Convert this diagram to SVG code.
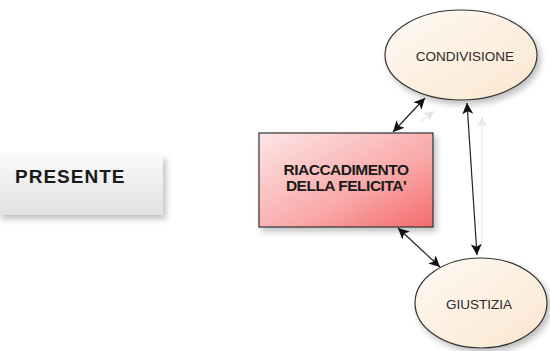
<svg xmlns="http://www.w3.org/2000/svg" width="550" height="351" viewBox="0 0 550 351">
  <defs>
    <linearGradient id="gGrey" x1="0" y1="0" x2="0" y2="1">
      <stop offset="0" stop-color="#f9f9f9"/>
      <stop offset="1" stop-color="#e2e2e2"/>
    </linearGradient>
    <linearGradient id="gRed" x1="0" y1="0" x2="1" y2="1">
      <stop offset="0" stop-color="#fde6e6"/>
      <stop offset="0.6" stop-color="#f9a8a8"/>
      <stop offset="1" stop-color="#f46a6a"/>
    </linearGradient>
    <linearGradient id="gPeach" x1="0" y1="0" x2="1" y2="1">
      <stop offset="0" stop-color="#fefaf3"/>
      <stop offset="1" stop-color="#fbe6d0"/>
    </linearGradient>
    <filter id="shadow" x="-10%" y="-10%" width="130%" height="140%">
      <feGaussianBlur in="SourceAlpha" stdDeviation="3"/>
      <feOffset dx="3" dy="4" result="b"/>
      <feComponentTransfer><feFuncA type="linear" slope="0.25"/></feComponentTransfer>
      <feMerge><feMergeNode/><feMergeNode in="SourceGraphic"/></feMerge>
    </filter>
    <marker id="ah" viewBox="0 0 10 10" refX="10" refY="5" markerWidth="11" markerHeight="11" orient="auto-start-reverse" markerUnits="userSpaceOnUse">
      <path d="M0,0 L10,5 L0,10 L2.5,5 z" fill="#111"/>
    </marker>
    <marker id="ahg" viewBox="0 0 10 10" refX="10" refY="5" markerWidth="10" markerHeight="10" orient="auto" markerUnits="userSpaceOnUse">
      <path d="M0,0 L10,5 L0,10 L2.5,5 z" fill="#e6e6e6"/>
    </marker>
    <style>
      .conn { stroke: #222; stroke-width: 1.2; fill: none; marker-start: url(#ah); marker-end: url(#ah); }
      .ghost { stroke: #ececec; stroke-width: 1.5; fill: none; marker-end: url(#ahg); }
      .bold { font-family: "Liberation Sans", Arial, sans-serif; font-weight: bold; fill: #1a1a1a; }
      .reg { font-family: "Liberation Sans", Arial, sans-serif; fill: #2a2a2a; }
    </style>
  </defs>

  <g id="presente">
    <rect x="-2" y="155" width="165" height="60" fill="url(#gGrey)" filter="url(#shadow)"/>
    <text class="bold" x="15" y="183" font-size="19" letter-spacing="1">PRESENTE</text>
  </g>

  <g id="riaccadimento">
    <rect x="259" y="133" width="174" height="94" fill="url(#gRed)" stroke="#333" stroke-width="1.2" filter="url(#shadow)"/>
    <text class="bold" x="346" y="175" font-size="15.5" letter-spacing="-0.5" text-anchor="middle">RIACCADIMENTO</text>
    <text class="bold" x="346" y="191" font-size="15.5" letter-spacing="-0.5" text-anchor="middle">DELLA FELICITA'</text>
  </g>

  <g id="condivisione">
    <ellipse cx="461" cy="55" rx="76" ry="45" fill="url(#gPeach)" stroke="#333" stroke-width="1.2" filter="url(#shadow)"/>
    <text class="reg" x="465" y="61" font-size="13.5" text-anchor="middle">CONDIVISIONE</text>
  </g>

  <g id="giustizia">
    <ellipse cx="481" cy="303" rx="66" ry="45" fill="url(#gPeach)" stroke="#333" stroke-width="1.2" filter="url(#shadow)"/>
    <text class="reg" x="479" y="309" font-size="13.5" text-anchor="middle">GIUSTIZIA</text>
  </g>

  <g id="connectors">
    <line class="ghost" x1="420" y1="122" x2="434" y2="111"/>
    <line class="ghost" x1="482" y1="250" x2="482" y2="117"/>
    <line class="conn" x1="393" y1="132" x2="425" y2="98"/>
    <line class="conn" x1="477" y1="255" x2="467" y2="103"/>
    <line class="conn" x1="398" y1="228" x2="440" y2="267"/>
  </g>
</svg>
